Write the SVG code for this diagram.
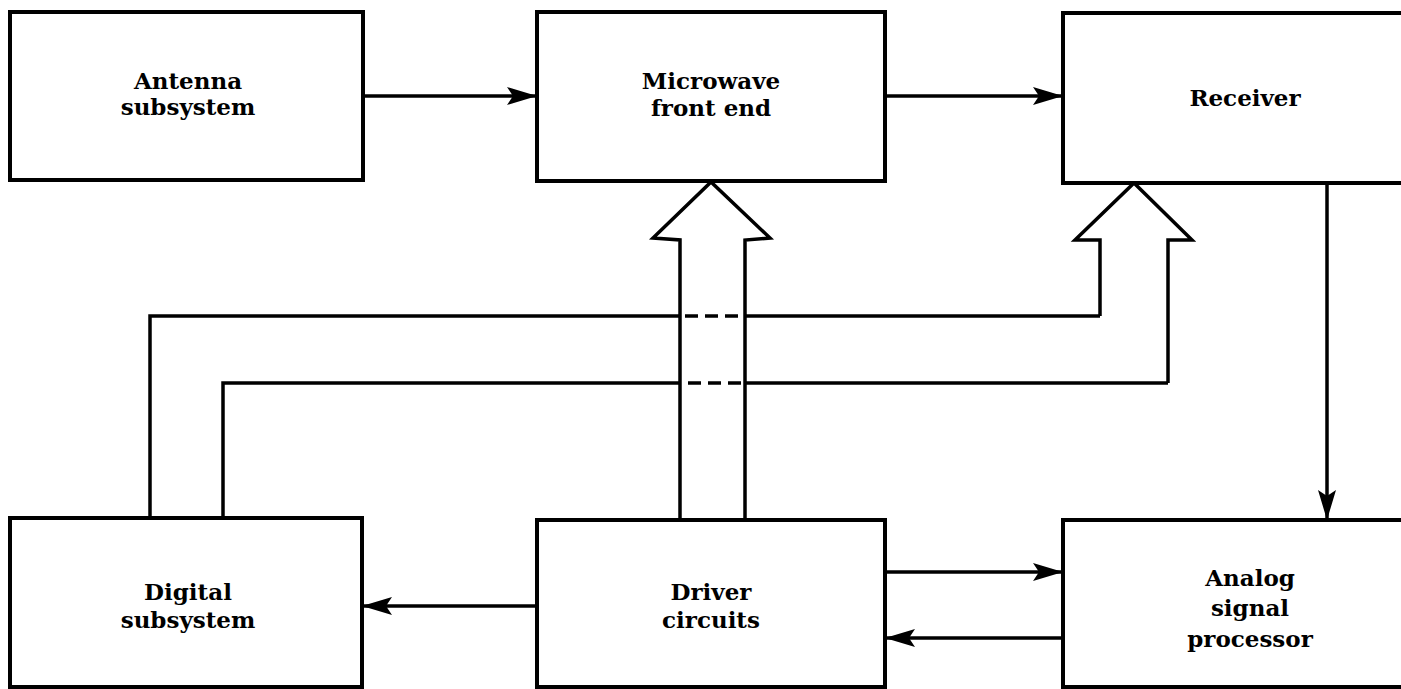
<svg xmlns="http://www.w3.org/2000/svg" width="1401" height="689" viewBox="0 0 1401 689">
<style>
.box{fill:#fff;stroke:#000;stroke-width:4}
.ln{fill:none;stroke:#000;stroke-width:3.5}
.dash{fill:none;stroke:#000;stroke-width:3.5;stroke-dasharray:13,7}
.hol{fill:#fff;stroke:#000;stroke-width:3.5;stroke-linejoin:miter}
text{font-family:"DejaVu Serif","Liberation Serif",serif;font-weight:bold;font-size:23px;text-anchor:middle;fill:#000}
</style>
<defs>
<marker id="ah" viewBox="0 0 30 18" refX="30" refY="9" markerWidth="30" markerHeight="18" markerUnits="userSpaceOnUse" orient="auto">
<path d="M0,0 L30,9 L0,18 L6,9 Z" fill="#000"/>
</marker>
</defs>
<g id="connectors">
<path class="hol" d="M680,520 V240 L653,238 L711,182 L770,238 L745,240 V520"/>
<path class="hol" d="M1100,316 V240 L1075,240 L1134,183 L1192,240 L1168,240 V383"/>
<line class="ln" x1="363" y1="96" x2="537" y2="96" marker-end="url(#ah)"/>
<line class="ln" x1="885" y1="96" x2="1063" y2="96" marker-end="url(#ah)"/>
<line class="ln" x1="1327" y1="183" x2="1327" y2="520" marker-end="url(#ah)"/>
<line class="ln" x1="885" y1="572" x2="1063" y2="572" marker-end="url(#ah)"/>
<line class="ln" x1="1063" y1="638" x2="885" y2="638" marker-end="url(#ah)"/>
<line class="ln" x1="537" y1="606" x2="362" y2="606" marker-end="url(#ah)"/>
<path class="ln" d="M150,518 V316 H680"/>
<path class="dash" d="M685,316 H744"/>
<path class="ln" d="M745,316 H1100"/>
<path class="ln" d="M223,518 V383 H680"/>
<path class="dash" d="M688,383 H744"/>
<path class="ln" d="M745,383 H1168"/>
</g>
<g id="antenna">
<rect class="box" x="10" y="12" width="353" height="168"/>
<text x="188" y="89">Antenna</text>
<text x="188" y="115">subsystem</text>
</g>
<g id="microwave">
<rect class="box" x="537" y="12" width="348" height="169"/>
<text x="711" y="89">Microwave</text>
<text x="711" y="116">front end</text>
</g>
<g id="receiver">
<rect class="box" x="1063" y="13" width="345" height="170"/>
<text x="1245" y="106">Receiver</text>
</g>
<g id="digital">
<rect class="box" x="10" y="518" width="352" height="169"/>
<text x="188" y="600">Digital</text>
<text x="188" y="628">subsystem</text>
</g>
<g id="driver">
<rect class="box" x="537" y="520" width="348" height="167"/>
<text x="711" y="600">Driver</text>
<text x="711" y="628">circuits</text>
</g>
<g id="analog">
<rect class="box" x="1063" y="520" width="345" height="167"/>
<text x="1250" y="586">Analog</text>
<text x="1250" y="616">signal</text>
<text x="1250" y="647">processor</text>
</g>
</svg>
